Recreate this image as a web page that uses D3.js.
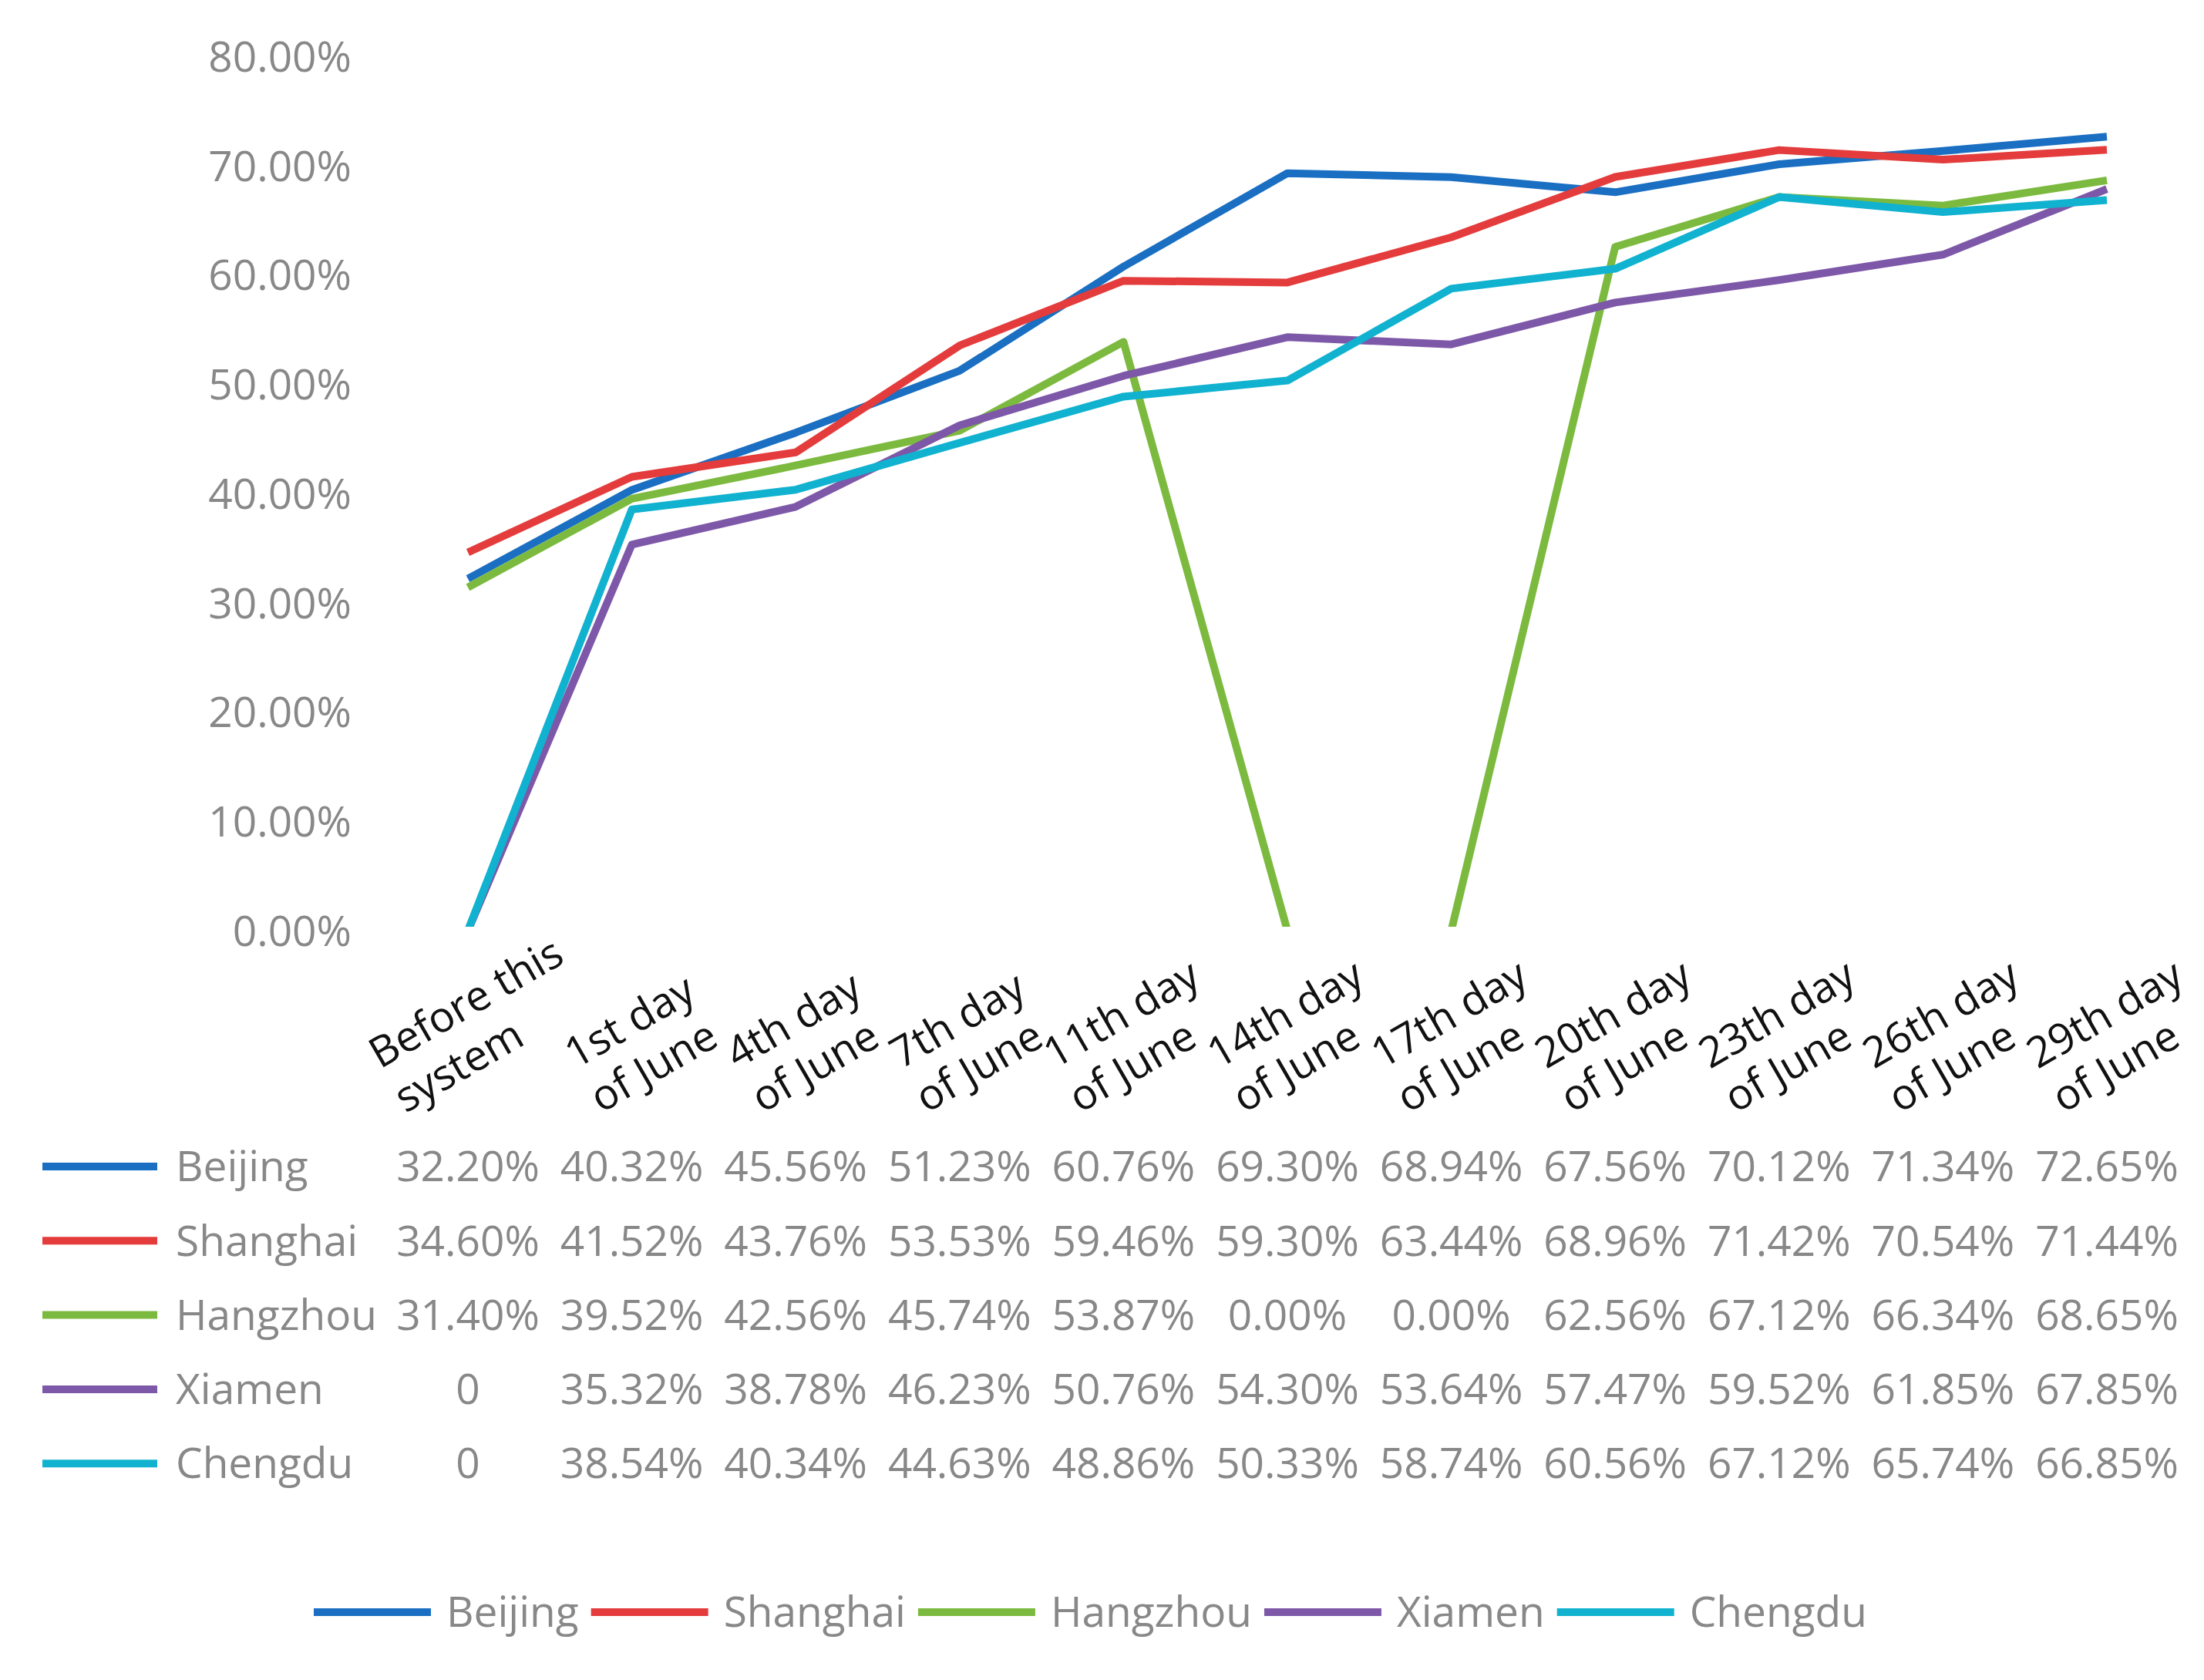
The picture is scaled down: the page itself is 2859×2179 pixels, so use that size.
<!DOCTYPE html>
<html>
<head>
<meta charset="utf-8">
<script src="https://cdn.jsdelivr.net/npm/d3@7"></script>
<style>
  html, body { margin: 0; padding: 0; background: #ffffff; }
  svg { display: block; }
</style>
</head>
<body>
<svg id="chart" width="2859" height="2179"></svg>
<script>
// ---------------- data ----------------
const categories = [
  "Before this\nsystem", "1st day\nof June", "4th day\nof June", "7th day\nof June",
  "11th day\nof June", "14th day\nof June", "17th day\nof June", "20th day\nof June",
  "23th day\nof June", "26th day\nof June", "29th day\nof June"
];
const seriesNames = ["Beijing", "Shanghai", "Hangzhou", "Xiamen", "Chengdu"];
const beijing  = ["32.20%","40.32%","45.56%","51.23%","60.76%","69.30%","68.94%","67.56%","70.12%","71.34%","72.65%"];
const shanghai = ["34.60%","41.52%","43.76%","53.53%","59.46%","59.30%","63.44%","68.96%","71.42%","70.54%","71.44%"];
const hangzhou = ["31.40%","39.52%","42.56%","45.74%","53.87%","0.00%","0.00%","62.56%","67.12%","66.34%","68.65%"];
const xiamen   = ["0","35.32%","38.78%","46.23%","50.76%","54.30%","53.64%","57.47%","59.52%","61.85%","67.85%"];
const chengdu  = ["0","38.54%","40.34%","44.63%","48.86%","50.33%","58.74%","60.56%","67.12%","65.74%","66.85%"];
const seriesColors = ["#1a6fc2", "#e43c3c", "#7cba3f", "#7e58a8", "#10b2d0"];
const yTicks = [0, 0.1, 0.2, 0.3, 0.4, 0.5, 0.6, 0.7, 0.8];

const seriesTexts = [beijing, shanghai, hangzhou, xiamen, chengdu];
const series = seriesNames.map((name, i) => ({
  name,
  color: seriesColors[i],
  texts: seriesTexts[i],
  values: seriesTexts[i].map(t => parseFloat(t) / 100)
}));

// ---------------- layout ----------------
const FONT = "'Open Sans', 'Noto Sans', sans-serif";
const GREY = "#888888";
const FS = 55;
const svg = d3.select("#chart");
svg.append("rect").attr("width", 2859).attr("height", 2179).attr("fill", "#fff");

const x = d3.scalePoint().domain(categories).range([607, 2733]);
const y = d3.scaleLinear().domain([0, 0.8]).range([1207, 73]);
const LW = 10;

// clip (plot area)
svg.append("defs").append("clipPath").attr("id", "plotclip")
  .append("rect").attr("x", 480).attr("y", 20).attr("width", 2379)
  .attr("height", y(0) - LW / 2 - 20);

// y axis
const yAxis = svg.append("g")
  .attr("transform", "translate(456,0)")
  .call(d3.axisLeft(y).tickValues(yTicks).tickFormat(d3.format(".2%")).tickSize(0).tickPadding(0));
yAxis.select(".domain").remove();
yAxis.selectAll("text")
  .attr("font-family", FONT).attr("font-size", FS).attr("fill", GREY)
  .attr("dy", "0.35em");

// x axis labels (rotated, two lines)
const xAxis = svg.append("g")
  .attr("transform", `translate(0,${y(0)})`)
  .call(d3.axisBottom(x).tickSize(0).tickFormat(""));
xAxis.select(".domain").remove();
xAxis.selectAll(".tick").each(function(d) {
  const tick = d3.select(this);
  tick.selectAll("text").remove();
  const outer = tick.append("g");
  const rot = outer.append("g").attr("transform", "rotate(-30)");
  const t = rot.append("text")
    .attr("font-family", FONT).attr("font-size", FS).attr("fill", "#111")
    .attr("text-anchor", "start");
  d.split("\n").forEach((line, i) => {
    t.append("tspan").attr("x", 0).attr("dy", i === 0 ? 0 : "1.2em").text(line);
  });
  const bb = outer.node().getBBox();
  // center horizontally on tick, bottom aligned
  const bottom = 1458 - y(0);
  outer.attr("transform", `translate(${12 - (bb.x + bb.width / 2)},${bottom - (bb.y + bb.height)})`);
});

// lines
const line = d3.line()
  .x((v, i) => x(categories[i]))
  .y(v => y(v));
const plot = svg.append("g").attr("clip-path", "url(#plotclip)");
plot.selectAll("path.series")
  .data(series)
  .join("path")
  .attr("class", "series")
  .attr("d", s => line(s.values))
  .attr("fill", "none")
  .attr("stroke", s => s.color)
  .attr("stroke-width", LW)
  .attr("stroke-linejoin", "round")
  .attr("stroke-linecap", "butt");

// data table
const rowY0 = 1513, rowStep = 96.3;
const table = svg.append("g");
series.forEach((s, r) => {
  const ry = rowY0 + r * rowStep;
  const row = table.append("g");
  row.append("line")
    .attr("x1", 55).attr("x2", 204).attr("y1", ry).attr("y2", ry)
    .attr("stroke", s.color).attr("stroke-width", 10);
  row.append("text")
    .attr("x", 228).attr("y", ry).attr("dy", "0.35em")
    .attr("font-family", FONT).attr("font-size", FS).attr("fill", GREY)
    .text(s.name);
  row.selectAll("text.val")
    .data(s.texts)
    .join("text")
    .attr("class", "val")
    .attr("x", (t, i) => x(categories[i]))
    .attr("y", ry).attr("dy", "0.35em")
    .attr("text-anchor", "middle")
    .attr("font-family", FONT).attr("font-size", FS).attr("fill", GREY)
    .text(t => t);
});

// bottom legend
const legend = svg.append("g").attr("transform", "translate(407,2091)");
let lx = 0;
series.forEach(s => {
  const g = legend.append("g").attr("transform", `translate(${lx},0)`);
  g.append("line").attr("x1", 0).attr("x2", 152).attr("y1", 0).attr("y2", 0)
    .attr("stroke", s.color).attr("stroke-width", 10);
  const t = g.append("text").attr("x", 172).attr("y", 0).attr("dy", "0.35em")
    .attr("font-family", FONT).attr("font-size", FS).attr("fill", GREY)
    .text(s.name);
  lx += 172 + t.node().getComputedTextLength() + 16;
});
</script>
</body>
</html>
